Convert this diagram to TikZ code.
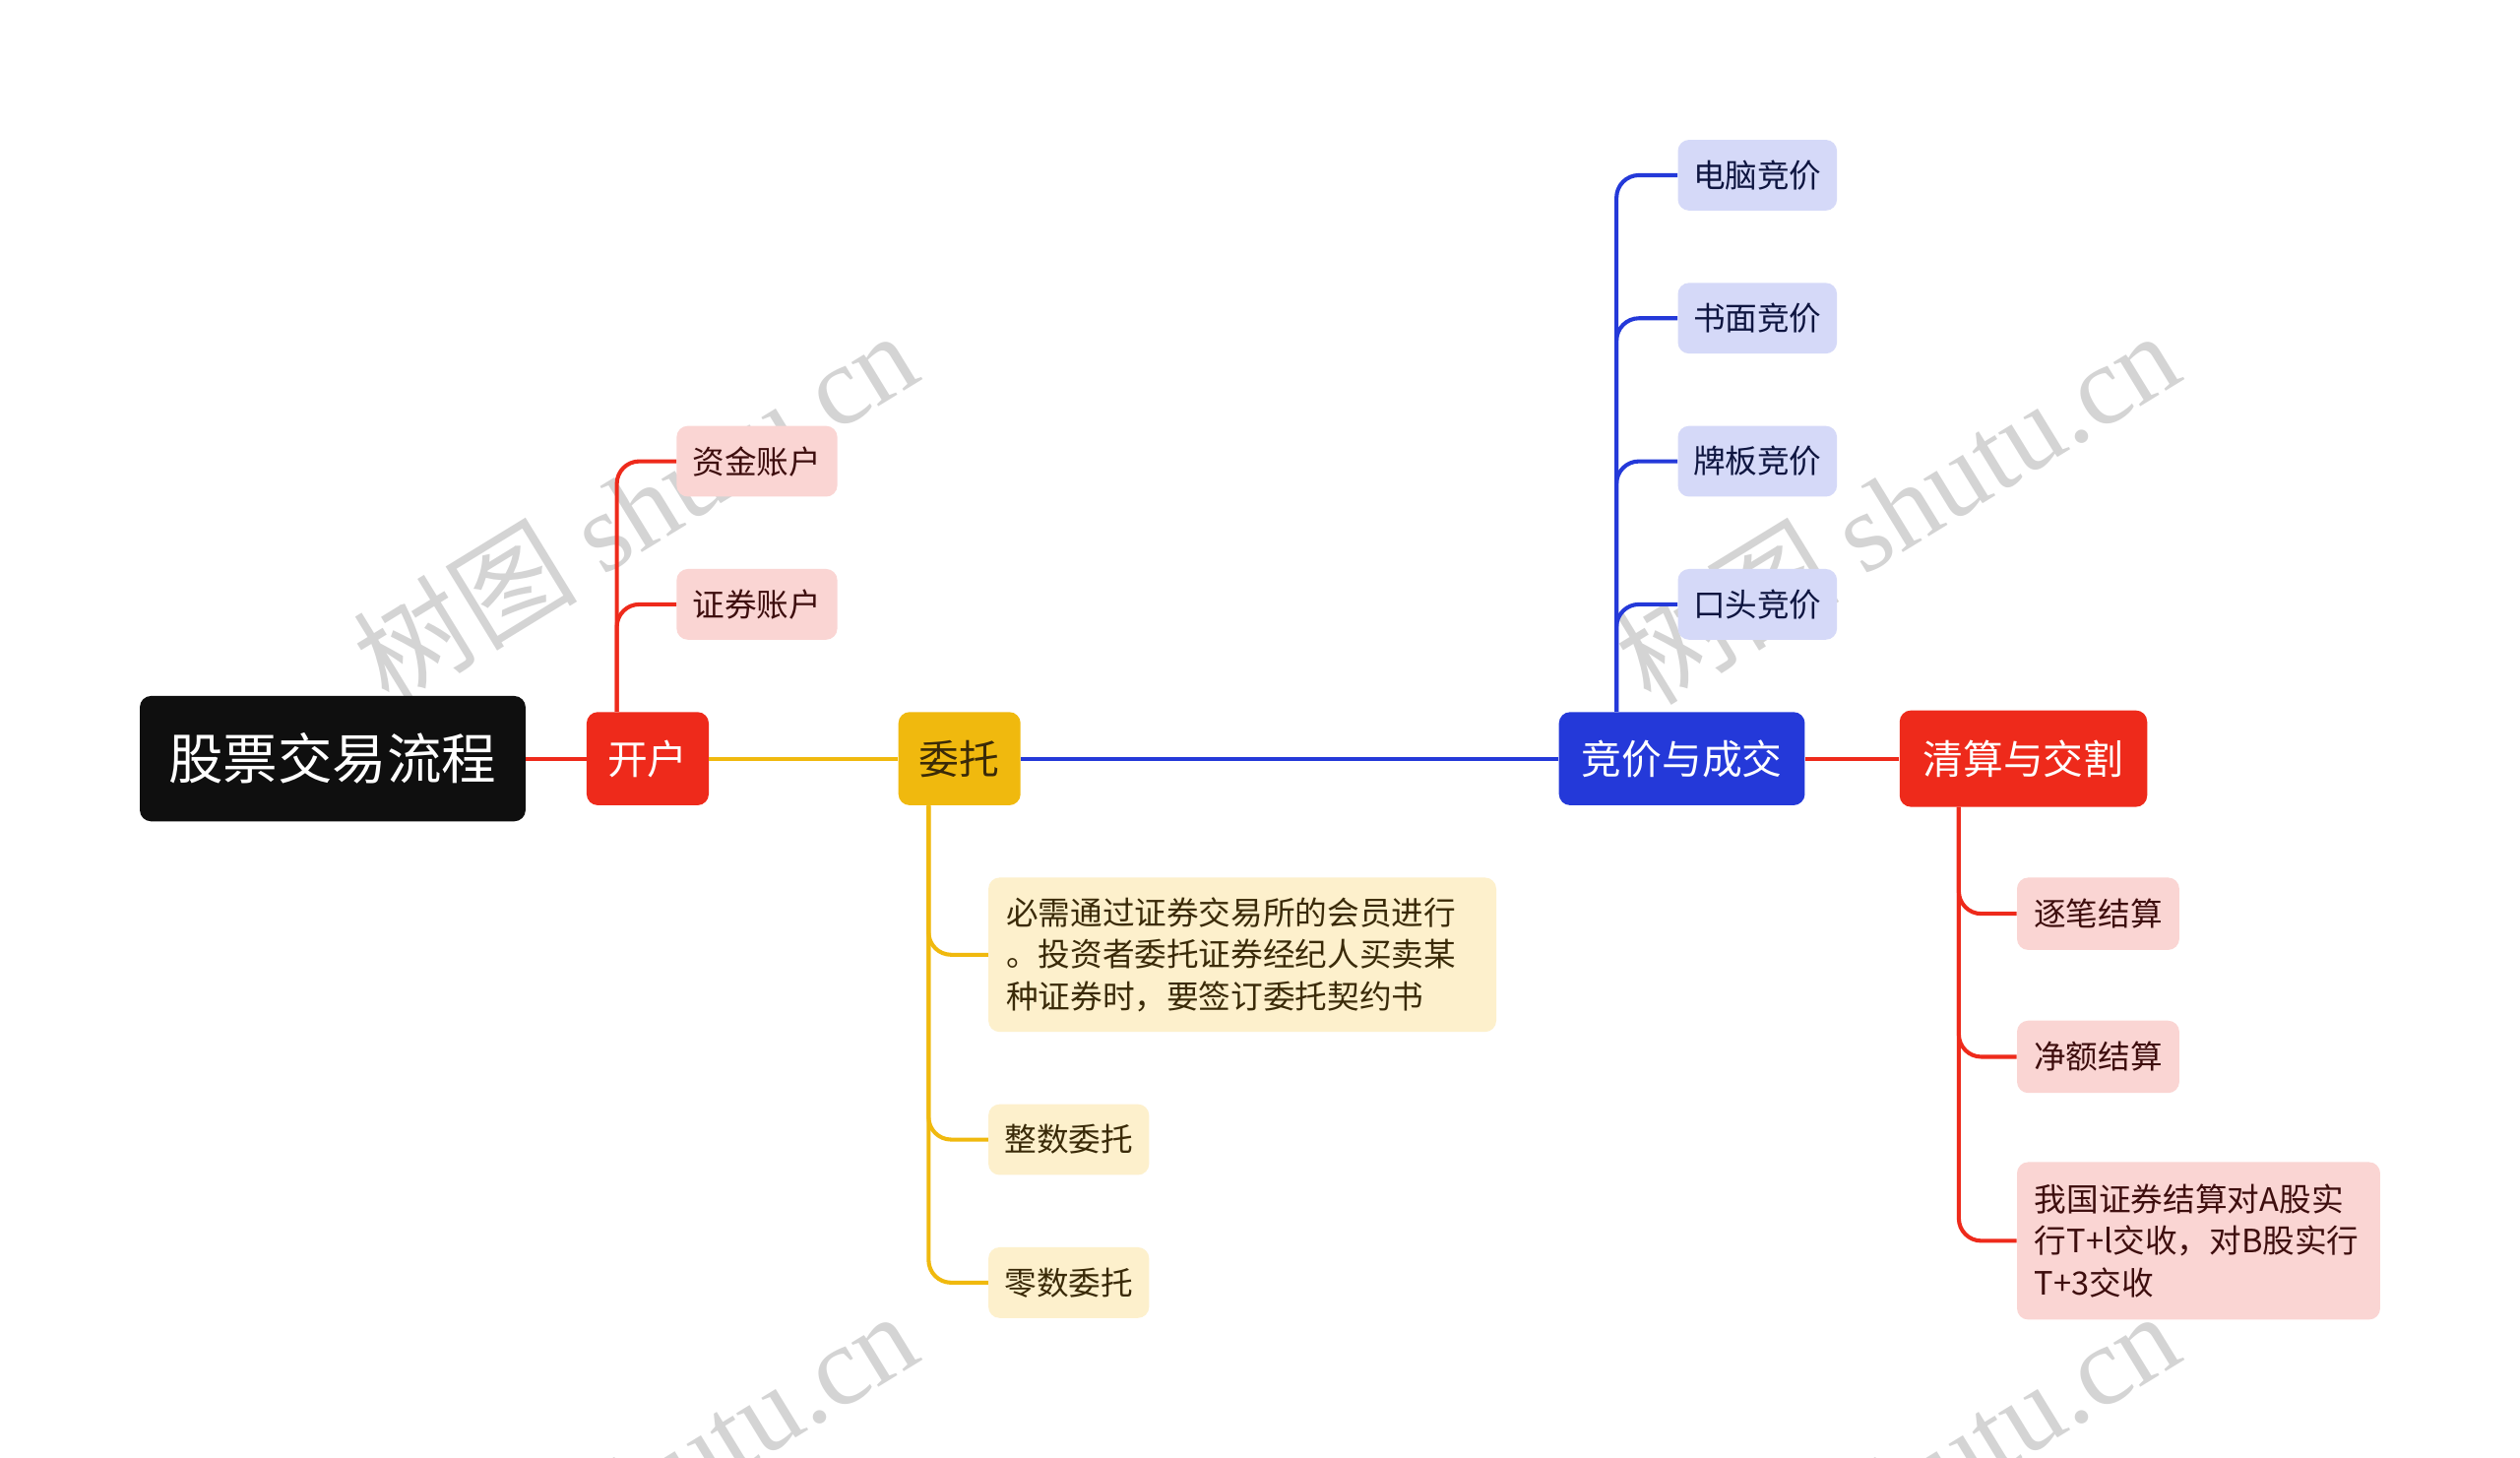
\documentclass[tikz,border=0pt]{standalone}
\usepackage{fontspec}
\setmainfont{Noto Sans CJK SC}
\newfontfamily\wmserif{Liberation Serif}
\usetikzlibrary{calc}
\definecolor{cRoot}{HTML}{0F0F0F}
\definecolor{cRed}{HTML}{EE2A1B}
\definecolor{cYel}{HTML}{F0B90E}
\definecolor{cBlue}{HTML}{2439D9}
\definecolor{cPink}{HTML}{FAD5D3}
\definecolor{cPinkT}{HTML}{3E0E0E}
\definecolor{cCream}{HTML}{FDF0CC}
\definecolor{cCreamT}{HTML}{3A2A08}
\definecolor{cLav}{HTML}{D5D9F8}
\definecolor{cLavT}{HTML}{0E1540}
\tikzset{
  box/.style={rounded corners=7pt, inner sep=0pt, align=center},
  rootbox/.style={box, fill=cRoot, text=white, minimum width=240pt, minimum height=78pt, font=\fontsize{34}{40}\selectfont},
  topicbox/.style={box, text=white, minimum height=58pt, font=\fontsize{25}{30}\selectfont},
  leaf/.style={box, minimum width=100pt, minimum height=44pt, font=\fontsize{20}{26}\selectfont},
  pinkleaf/.style={leaf, fill=cPink, text=cPinkT},
  creamleaf/.style={leaf, fill=cCream, text=cCreamT},
  lavleaf/.style={leaf, fill=cLav, text=cLavT},
  para/.style={align=left, inner xsep=11pt, inner ysep=0pt, minimum width=0pt},
  link/.style={line width=2.5pt},
  branch/.style={line width=2.5pt, rounded corners=14pt},
  wm/.style={text=black, text opacity=0.17, rotate=31.5, font=\fontsize{70}{80}\selectfont}
}
\begin{document}
\begin{tikzpicture}[x=1pt, y=-1pt]
\useasboundingbox (0,0) rectangle (1568,907);
\fill[white] (0,0) rectangle (1568,907);

% watermarks (behind everything)
\begin{scope}
\clip (0,0) rectangle (1568,907);
\node[wm] (wm1) at (395,315) {树图 {\wmserif shutu.cn}};
\node[wm] (wm2) at (1180,315) {树图 {\wmserif shutu.cn}};
\node[wm] (wm3) at (395,925) {树图 {\wmserif shutu.cn}};
\node[wm] (wm4) at (1180,925) {树图 {\wmserif shutu.cn}};
\end{scope}

% main nodes
\node[rootbox] (root) at (207,472) {股票交易流程};
\node[topicbox, fill=cRed, minimum width=76pt] (kaihu) at (403,472) {开户};
\node[topicbox, fill=cYel, text=cCreamT, minimum width=76pt] (weituo) at (597,472) {委托};
\node[topicbox, fill=cBlue, minimum width=153pt] (jingjia) at (1046.5,472) {竞价与成交};
\node[topicbox, fill=cRed, minimum width=154pt, minimum height=60pt] (qingsuan) at (1259,472) {清算与交割};

% leaves of 开户
\node[pinkleaf] (zj) at (471,287) {资金账户};
\node[pinkleaf] (zq) at (471,376) {证券账户};

% leaves of 委托
\node[creamleaf, para, text width=294pt, minimum height=96pt] (w1) at (773,594) {必需通过证券交易所的会员进行\\。投资者委托证券经纪人买卖某\\种证券时，要签订委托契约书};
\node[creamleaf] (w2) at (665,709) {整数委托};
\node[creamleaf] (w3) at (665,798) {零数委托};

% leaves of 竞价与成交
\node[lavleaf, minimum width=99pt] (j1) at (1093.5,109) {电脑竞价};
\node[lavleaf, minimum width=99pt] (j2) at (1093.5,198) {书面竞价};
\node[lavleaf, minimum width=99pt] (j3) at (1093.5,287) {牌板竞价};
\node[lavleaf, minimum width=99pt] (j4) at (1093.5,376) {口头竞价};

% leaves of 清算与交割
\node[pinkleaf, minimum width=101pt, minimum height=45pt] (q1) at (1305.5,568.5) {逐笔结算};
\node[pinkleaf, minimum width=101pt, minimum height=45pt] (q2) at (1305.5,657.5) {净额结算};
\node[pinkleaf, para, text width=204pt, minimum height=98pt] (q3) at (1368,772) {我国证券结算对A股实\\行T+l交收，对B股实行\\T+3交收};

% main links
\draw[link, cRed] (root.east) -- (kaihu.west);
\draw[link, cYel] (kaihu.east) -- (weituo.west);
\draw[link, cBlue] (weituo.east) -- (jingjia.west);
\draw[link, cRed] (jingjia.east) -- (qingsuan.west);

% branches
\foreach \c in {zj,zq}
  \draw[branch, cRed] ([xshift=19pt]kaihu.north west) |- (\c.west);
\foreach \c in {w1,w2,w3}
  \draw[branch, cYel] ([xshift=19pt]weituo.south west) |- (\c.west);
\foreach \c in {j1,j2,j3,j4}
  \draw[branch, cBlue] ([xshift=36pt]jingjia.north west) |- (\c.west);
\foreach \c in {q1,q2,q3}
  \draw[branch, cRed] ([xshift=37pt]qingsuan.south west) |- (\c.west);
\end{tikzpicture}
\end{document}
